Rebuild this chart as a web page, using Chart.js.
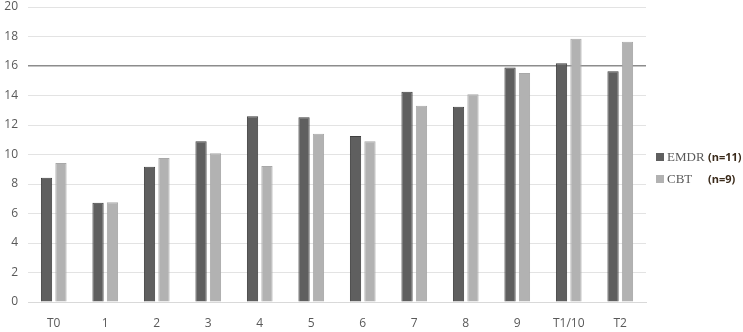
<!DOCTYPE html>
<html>
<head>
<meta charset="utf-8">
<script src="https://cdn.jsdelivr.net/npm/chart.js@4/dist/chart.umd.min.js"></script>
<style>
  body { margin: 0; background: #fff; }
  .wrap { position: relative; width: 743px; height: 332px; }
  .legend { position: absolute; left: 656px; top: 145px; }
  .legend div { height: 22px; line-height: 22px; white-space: nowrap; }
  .legend .sw { display: inline-block; width: 8px; height: 8px; margin-right: 3px; vertical-align: 0px; }
  .legend .nm { font-family: "Liberation Serif", serif; font-size: 13px; color: #595959; display: inline-block; width: 41px; }
  .legend .n { font-family: "Open Sans", sans-serif; font-weight: bold; font-size: 11px; color: #3a2a1a; }
</style>
</head>
<body>
<div class="wrap">
  <canvas id="chart" width="743" height="332"></canvas>
  <div class="legend" id="legend"></div>
</div>
<script>
const categories = ['T0', '1', '2', '3', '4', '5', '6', '7', '8', '9', 'T1/10', 'T2'];
const emdr = [8.43, 6.73, 9.17, 10.9, 12.59, 12.52, 11.25, 14.26, 13.24, 15.89, 16.18, 15.64];
const cbt = [9.42, 6.76, 9.76, 10.08, 9.22, 11.41, 10.9, 13.31, 14.08, 15.53, 17.85, 17.65];
const seriesNames = ['EMDR', 'CBT'];
const groupSizes = ['(n=11)', '(n=9)'];
const colors = ['#5f5f5f', '#b2b2b2'];
const borders = ['#3f3f3f', '#a8a8a8'];

const ctx = document.getElementById('chart').getContext('2d');
new Chart(ctx, {
  type: 'bar',
  data: {
    labels: categories,
    datasets: [emdr, cbt].map((d, i) => ({
      label: seriesNames[i],
      data: d,
      backgroundColor: colors[i],
      borderColor: borders[i],
      borderWidth: 1,
      categoryPercentage: 0.56,
      barPercentage: 0.78,
    })),
  },
  options: {
    responsive: false,
    animation: false,
    layout: { padding: { top: 7, right: 97, bottom: 0, left: 0 } },
    plugins: { legend: { display: false }, tooltip: { enabled: false } },
    scales: {
      x: {
        grid: { display: false },
        border: { color: '#d9d9d9' },
        ticks: { color: '#595959', font: { family: 'Open Sans', size: 12 }, padding: 6 },
        afterFit: s => { s.height = 30; },
      },
      y: {
        min: 0,
        max: 20,
        ticks: { stepSize: 2, color: '#595959', font: { family: 'Open Sans', size: 12 }, padding: 10 },
        border: { display: false },
        grid: {
          drawTicks: false,
          color: c => (c.tick && c.tick.value === 16 ? '#8c8c8c' : '#e3e3e3'),
          lineWidth: c => (c.tick && c.tick.value === 16 ? 1.5 : 1),
        },
        afterFit: s => { s.width = 28; s.paddingTop = 0; s.paddingBottom = 0; },
      },
    },
  },
});

const legend = document.getElementById('legend');
seriesNames.forEach((name, i) => {
  const row = document.createElement('div');
  row.innerHTML = '<span class="sw" style="background:' + colors[i] + '"></span>' +
    '<span class="nm">' + name + '</span><span class="n">' + groupSizes[i] + '</span>';
  legend.appendChild(row);
});
</script>
</body>
</html>
